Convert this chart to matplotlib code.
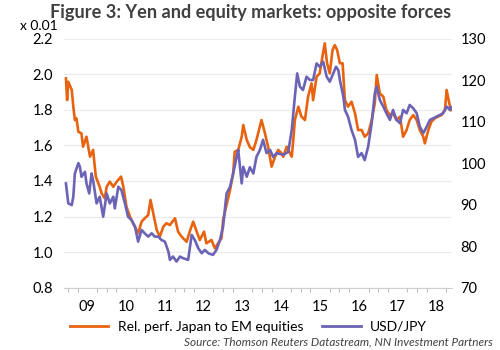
import matplotlib.pyplot as plt
from matplotlib.ticker import MultipleLocator, FixedLocator, NullFormatter

# relative performance Japan vs EM equities (left axis, x 0.01)
rel_t = [2008.95, 2008.98, 2009.01, 2009.10, 2009.14, 2009.18, 2009.22, 2009.27, 2009.35,
         2009.39, 2009.48, 2009.57, 2009.65, 2009.72, 2009.82, 2009.87, 2009.95, 2010.00,
         2010.08, 2010.17, 2010.26, 2010.37, 2010.43, 2010.51, 2010.60, 2010.68, 2010.81,
         2010.90, 2010.98, 2011.07, 2011.13, 2011.20, 2011.29, 2011.37, 2011.46, 2011.54,
         2011.63, 2011.76, 2011.84, 2011.93, 2012.06, 2012.14, 2012.23, 2012.32, 2012.40,
         2012.51, 2012.57, 2012.70, 2012.79, 2012.87, 2012.96, 2013.00, 2013.09, 2013.18,
         2013.26, 2013.30, 2013.39, 2013.48, 2013.52, 2013.61, 2013.69, 2013.78, 2013.86,
         2013.99, 2014.08, 2014.16, 2014.25, 2014.34, 2014.42, 2014.51, 2014.55, 2014.64,
         2014.77, 2014.81, 2014.85, 2014.94, 2015.02, 2015.11, 2015.19, 2015.28, 2015.32,
         2015.41, 2015.49, 2015.56, 2015.62, 2015.68, 2015.75, 2015.82, 2015.88, 2015.94,
         2016.01, 2016.08, 2016.14, 2016.22, 2016.31, 2016.40, 2016.48, 2016.57, 2016.65,
         2016.74, 2016.83, 2016.91, 2016.96, 2017.04, 2017.13, 2017.21, 2017.30, 2017.38,
         2017.47, 2017.56, 2017.64, 2017.73, 2017.81, 2017.90, 2017.99, 2018.07, 2018.16,
         2018.20, 2018.29, 2018.37, 2018.46, 2018.54, 2018.63, 2018.72, 2018.76, 2018.83,
         2018.87]
rel_v = [1.976, 1.854, 1.957, 1.911, 1.817, 1.742, 1.752, 1.676, 1.667,
         1.592, 1.648, 1.536, 1.574, 1.424, 1.367, 1.330, 1.302, 1.367,
         1.396, 1.367, 1.396, 1.424, 1.367, 1.255, 1.199, 1.162, 1.106,
         1.171, 1.190, 1.208, 1.293, 1.218, 1.124, 1.087, 1.143, 1.162,
         1.152, 1.190, 1.115, 1.087, 1.058, 1.115, 1.171, 1.115, 1.068,
         1.115, 1.049, 1.068, 1.021, 1.049, 1.078, 1.180, 1.265, 1.349,
         1.443, 1.564, 1.574, 1.648, 1.714, 1.630, 1.590, 1.574, 1.630,
         1.742, 1.667, 1.592, 1.480, 1.536, 1.574, 1.555, 1.536, 1.592,
         1.536, 1.630, 1.742, 1.817, 1.761, 1.742, 1.873, 1.948, 1.854,
         1.985, 2.004, 2.098, 2.173, 2.061, 2.004, 2.135, 2.163, 2.135,
         2.061, 2.061, 1.854, 1.817, 1.845, 1.780, 1.686, 1.686, 1.648,
         1.667, 1.742, 1.836, 1.995, 1.892, 1.873, 1.798, 1.770, 1.780,
         1.742, 1.761, 1.648, 1.686, 1.742, 1.770, 1.742, 1.686, 1.648,
         1.611, 1.686, 1.733, 1.752, 1.761, 1.770, 1.798, 1.911, 1.836,
         1.798]

# USD/JPY (right axis)
fx_t = [2008.95, 2009.01, 2009.10, 2009.14, 2009.18, 2009.27, 2009.31, 2009.35, 2009.44,
        2009.48, 2009.55, 2009.61, 2009.65, 2009.74, 2009.82, 2009.91, 2010.00, 2010.08,
        2010.17, 2010.21, 2010.30, 2010.38, 2010.47, 2010.55, 2010.64, 2010.73, 2010.81,
        2010.90, 2010.98, 2011.07, 2011.16, 2011.24, 2011.33, 2011.41, 2011.50, 2011.59,
        2011.63, 2011.71, 2011.80, 2011.89, 2011.97, 2012.10, 2012.19, 2012.27, 2012.36,
        2012.45, 2012.53, 2012.62, 2012.74, 2012.83, 2012.92, 2013.00, 2013.09, 2013.18,
        2013.26, 2013.35, 2013.39, 2013.48, 2013.52, 2013.61, 2013.69, 2013.78, 2013.86,
        2013.95, 2014.03, 2014.12, 2014.21, 2014.29, 2014.38, 2014.55, 2014.68, 2014.77,
        2014.85, 2014.91, 2014.98, 2015.06, 2015.15, 2015.24, 2015.32, 2015.41, 2015.49,
        2015.58, 2015.67, 2015.75, 2015.84, 2015.91, 2015.97, 2016.01, 2016.10, 2016.14,
        2016.22, 2016.31, 2016.40, 2016.48, 2016.57, 2016.65, 2016.74, 2016.83, 2016.91,
        2016.96, 2017.04, 2017.13, 2017.21, 2017.30, 2017.38, 2017.47, 2017.56, 2017.64,
        2017.73, 2017.81, 2017.90, 2017.99, 2018.07, 2018.16, 2018.25, 2018.33, 2018.42,
        2018.50, 2018.59, 2018.67, 2018.76, 2018.85, 2018.87]
fx_v = [95.1, 90.3, 89.9, 91.9, 97.5, 100.0, 99.1, 96.7, 97.9,
        95.1, 92.7, 97.5, 95.9, 90.3, 91.9, 87.1, 92.7, 90.3,
        91.9, 89.1, 94.3, 93.5, 90.3, 87.1, 86.3, 84.7, 81.1,
        83.9, 83.1, 82.3, 83.1, 82.3, 82.3, 81.5, 81.1, 78.7,
        76.7, 77.5, 76.3, 77.5, 77.1, 76.7, 82.7, 81.5, 79.5,
        78.3, 79.1, 78.3, 77.9, 79.1, 81.5, 84.7, 92.7, 94.3,
        97.5, 101.5, 103.2, 95.1, 99.1, 96.7, 99.0, 97.5, 101.5,
        103.2, 105.6, 102.4, 103.2, 101.5, 102.4, 102.0, 102.7, 108.0,
        116.0, 121.6, 118.4, 117.6, 120.8, 120.0, 120.0, 124.0, 123.2,
        124.4, 120.8, 119.6, 121.6, 123.2, 122.4, 120.0, 116.0, 112.8,
        111.2, 108.0, 105.6, 101.5, 102.4, 100.7, 104.0, 109.6, 116.8,
        118.4, 115.2, 113.6, 112.0, 110.4, 112.8, 110.4, 109.6, 112.8,
        112.0, 114.0, 113.2, 112.0, 108.8, 107.2, 108.8, 110.4, 110.8,
        111.2, 111.6, 112.0, 113.6, 112.8, 113.5]

years = list(range(2009, 2019))
year_labels = ['09', '10', '11', '12', '13', '14', '15', '16', '17', '18']

orange = '#E8630F'
purple = '#6B63B5'
plt.rcParams['font.family'] = ['Lato', 'DejaVu Sans']

fig = plt.figure(figsize=(5, 3.5), dpi=100)
ax = fig.add_axes([0.128, 0.178, 0.776, 0.712])
ax2 = ax.twinx()

ax.plot(rel_t, rel_v, color=orange, lw=1.9, solid_joinstyle='round')
ax2.plot(fx_t, fx_v, color=purple, lw=1.9, solid_joinstyle='round')

ax.set_xlim(2008.9, 2018.9)
ax.set_ylim(0.8, 2.2)
ax2.set_ylim(70, 130)
ax.yaxis.set_major_locator(MultipleLocator(0.2))
ax2.yaxis.set_major_locator(MultipleLocator(10))
ax.set_yticklabels(['%.1f' % v for v in ax.get_yticks()])

ax.grid(axis='y', color='#EBEBEB', lw=0.8)
ax.set_axisbelow(True)

# year labels in the middle of each year, quarter ticks along the axis
ax.set_xticks([y + 0.5 for y in years])
ax.set_xticklabels(year_labels)
ax.xaxis.set_minor_locator(FixedLocator([y + q / 4 for y in years for q in range(4)] + [2019]))
ax.xaxis.set_minor_formatter(NullFormatter())
ax.tick_params(axis='x', which='major', length=0, pad=9, labelsize=10.5)
ax.tick_params(axis='x', which='minor', length=3, color='#BFBFBF', width=0.8, direction='out')
ax.tick_params(axis='y', length=0, pad=8, labelsize=10.5)
ax2.tick_params(axis='y', length=0, pad=6, labelsize=10.5)

for a in (ax, ax2):
    for s in a.spines.values():
        s.set_visible(False)
ax.spines['bottom'].set_visible(True)
ax.spines['bottom'].set_color('#D0D0D0')
ax.spines['bottom'].set_linewidth(0.8)

title = fig.text(0.502, 0.963, 'Figure 3: Yen and equity markets: opposite forces', ha='center',
                 va='center', fontsize=13, fontweight='bold', color='#404040')
# scale the title so it spans about 400 px like the original
r = fig.canvas.get_renderer()
w = title.get_window_extent(r).width
title.set_fontsize(13 * 400 / w)

fig.text(0.04, 0.925, 'x 0.01', ha='left', va='center', fontsize=10)

h1, = ax.plot([], [], color=orange, lw=2)
h2, = ax.plot([], [], color=purple, lw=2)
fig.legend([h1, h2], ['Rel. perf. Japan to EM equities', 'USD/JPY'], ncol=2, frameon=False,
           loc='center left', bbox_to_anchor=(0.128, 0.066), fontsize=10, handlelength=2.8,
           columnspacing=1.3, handletextpad=0.7, borderaxespad=0)
fig.text(0.985, 0.022, 'Source: Thomson Reuters Datastream, NN Investment Partners', ha='right',
         va='center', fontsize=8.5, style='italic', color='#404040')

fig.savefig('out.png', dpi=100)
